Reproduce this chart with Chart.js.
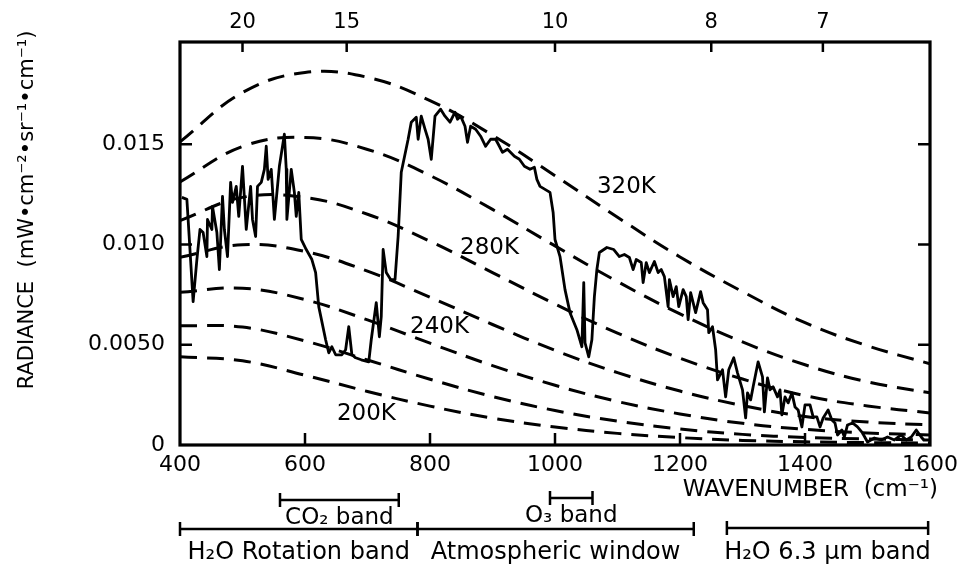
<!DOCTYPE html>
<html>
<head>
<meta charset="utf-8">
<title>Radiance spectrum</title>
<script src="https://cdn.jsdelivr.net/npm/chart.js@4.4.1/dist/chart.umd.min.js"></script>
<style>
  html, body { margin: 0; padding: 0; background: #fff; }
</style>
</head>
<body>
<canvas id="radianceChart" width="965" height="579"></canvas>
<script>
// blackbody reference curves, every 100 cm-1
const planckNu = [400, 500, 600, 700, 800, 900, 1000, 1100, 1200, 1300, 1400, 1500, 1600];
const bb320 = [0.01512, 0.01758, 0.01858, 0.01834, 0.01718, 0.01545, 0.01343, 0.01136, 0.00938, 0.00765, 0.00610, 0.00495, 0.00405];
const bb300 = [0.01312, 0.01489, 0.01534, 0.01474, 0.01344, 0.01175, 0.00993, 0.00815, 0.00654, 0.00514, 0.00400, 0.00315, 0.00260];
const bb280 = [0.01119, 0.01235, 0.01235, 0.01151, 0.01016, 0.00860, 0.00703, 0.00558, 0.00433, 0.00329, 0.00246, 0.00195, 0.00160];
const bb260 = [0.00936, 0.00999, 0.00965, 0.00867, 0.00737, 0.00601, 0.00472, 0.00361, 0.00269, 0.00197, 0.00142, 0.00115, 0.00100];
const bb240 = [0.00762, 0.00782, 0.00725, 0.00624, 0.00508, 0.00396, 0.00298, 0.00217, 0.00155, 0.00108, 0.00078, 0.00060, 0.00050];
const bb220 = [0.00595, 0.00588, 0.00519, 0.00424, 0.00328, 0.00242, 0.00172, 0.00119, 0.00080, 0.00053, 0.00038, 0.00030, 0.00025];
const bb200 = [0.00440, 0.00420, 0.00348, 0.00267, 0.00194, 0.00134, 0.00090, 0.00058, 0.00037, 0.00023, 0.00016, 0.00012, 0.00010];

// measured spectrum
const specNu = [403, 411, 413, 421, 427, 432, 437, 443, 444, 451, 452, 459, 463, 468, 471, 476, 481, 484, 490, 494,
  500, 506, 513, 516, 521, 524, 530, 535, 538, 541, 546, 551, 559, 567, 570, 571, 578, 583, 586, 590,
  594, 602, 611, 617, 622, 633, 638, 643, 649, 659, 665, 670, 675, 681, 690, 702, 706, 714, 719, 722,
  725, 730, 737, 744, 749, 754, 765, 770, 778, 781, 786, 792, 797, 802, 808, 817, 824, 832, 840, 844,
  849, 856, 860, 865, 873, 881, 889, 897, 905, 911, 916, 924, 935, 943, 951, 960, 967, 971, 976, 984,
  992, 997, 1000, 1008, 1016, 1024, 1035, 1043, 1046, 1048, 1054, 1059, 1063, 1067, 1071, 1083, 1094, 1103, 1111, 1119,
  1125, 1130, 1138, 1141, 1146, 1151, 1159, 1165, 1170, 1175, 1181, 1183, 1189, 1194, 1198, 1205, 1210, 1213, 1217, 1225,
  1233, 1237, 1244, 1246, 1252, 1257, 1260, 1268, 1273, 1278, 1286, 1292, 1300, 1305, 1308, 1313, 1317, 1325, 1332, 1335,
  1340, 1344, 1349, 1356, 1360, 1363, 1368, 1373, 1379, 1384, 1389, 1395, 1400, 1408, 1413, 1419, 1424, 1429, 1437, 1443,
  1448, 1452, 1459, 1463, 1468, 1476, 1484, 1492, 1500, 1511, 1522, 1532, 1543, 1554, 1562, 1570, 1578, 1586, 1590];
const specRad = [0.01235, 0.01225, 0.01125, 0.00715, 0.00925, 0.01075, 0.0106, 0.0094, 0.01125, 0.01075, 0.0119, 0.0106, 0.00875, 0.0124, 0.01075, 0.0094, 0.0131, 0.0121, 0.0129, 0.0114,
  0.0139, 0.01075, 0.0129, 0.01125, 0.0104, 0.0129, 0.0131, 0.01375, 0.0149, 0.01325, 0.01375, 0.01125, 0.0139, 0.0155, 0.01375, 0.01125, 0.01375, 0.0126, 0.0114, 0.0126,
  0.01025, 0.00975, 0.00925, 0.0086, 0.0069, 0.00525, 0.0046, 0.0049, 0.0045, 0.0045, 0.00475, 0.0059, 0.0045, 0.00435, 0.00425, 0.00415, 0.00525, 0.0071, 0.0054, 0.0064,
  0.00975, 0.0086, 0.00825, 0.00825, 0.0104, 0.0136, 0.01525, 0.0161, 0.01635, 0.01525, 0.0164, 0.01575, 0.01525, 0.01425, 0.0164, 0.01675, 0.0164, 0.0161, 0.0166, 0.01625,
  0.0164, 0.0159, 0.0151, 0.0159, 0.01575, 0.0154, 0.0149, 0.01525, 0.01525, 0.0149, 0.0146, 0.01475, 0.0144, 0.01425, 0.0139, 0.01375, 0.01385, 0.01325, 0.0129, 0.01275,
  0.0126, 0.0116, 0.01025, 0.0094, 0.00775, 0.0066, 0.00575, 0.0049, 0.0081, 0.0051, 0.0044, 0.00525, 0.0074, 0.00875, 0.0096, 0.00985, 0.00975, 0.0094, 0.0095, 0.00935,
  0.00875, 0.00925, 0.0091, 0.0081, 0.0091, 0.0086, 0.00915, 0.0086, 0.00875, 0.0084, 0.0069, 0.00825, 0.0074, 0.0079, 0.0069, 0.00775, 0.0074, 0.00625, 0.0076, 0.0066,
  0.00765, 0.0071, 0.00675, 0.0056, 0.0059, 0.00475, 0.00325, 0.00375, 0.0024, 0.00375, 0.00435, 0.0036, 0.00275, 0.00135, 0.0026, 0.00225, 0.0029, 0.00415, 0.0034, 0.00165,
  0.00335, 0.00275, 0.0029, 0.0024, 0.00275, 0.0015, 0.0024, 0.0021, 0.0026, 0.0019, 0.00175, 0.0009, 0.002, 0.002, 0.0014, 0.0014, 0.0009, 0.00135, 0.00175, 0.00125,
  0.0011, 0.0005, 0.00075, 0.0004, 0.001, 0.0011, 0.0009, 0.0006, 0.00015, 0.00035, 0.00025, 0.0004, 0.00025, 0.0005, 0.00025, 0.0004, 0.00075, 0.0004, 0.00025];

// axes
const yTickVals = [0, 0.005, 0.010, 0.015];
const yTickText = ['0', '0.0050', '0.010', '0.015'];
const topTickNu = [500, 666.7, 1000, 1250, 1428.6];
const topTickText = ['20', '15', '10', '8', '7'];

// absorption bands (cm-1)
const bandNames = ['CO\u2082 band', 'O\u2083 band', 'H\u2082O Rotation band', 'Atmospheric window', 'H\u2082O 6.3 \u03bcm band'];
const bandStart = [560, 992, 400, 780, 1275];
const bandEnd = [750, 1060, 780, 1222, 1597];

const FONT = '"DejaVu Sans", "Liberation Sans", sans-serif';

const xy = (xs, ys) => xs.map((v, i) => ({ x: v, y: ys[i] }));
const dashed = (data) => ({
    data: xy(planckNu, data),
    borderColor: '#000',
    borderWidth: 3,
    borderDash: [17, 10],
    pointRadius: 0,
    tension: 0.4,
    fill: false
});

// curve labels: text, wavenumber of left edge, radiance of middle
const curveLabels = [
    ['320K', 1067, 0.01285],
    ['280K', 848, 0.0098],
    ['240K', 768, 0.0059],
    ['200K', 651, 0.00155]
];
// bracket rows: y of bracket, y of text, per band
const bandRows = [[500, 518], [498, 516], [529, 553], [529, 553], [528, 553]];

const annotate = {
    id: 'annotate',
    afterDraw(chart) {
        const { ctx, chartArea: a, scales } = chart;
        const x = scales.x, y = scales.y, xt = scales.xTop;
        ctx.save();
        ctx.strokeStyle = '#000';
        ctx.fillStyle = '#000';

        ctx.lineWidth = 3.2;
        ctx.strokeRect(a.left, a.top, a.right - a.left, a.bottom - a.top);

        // inward tick marks
        ctx.lineWidth = 2.5;
        ctx.beginPath();
        x.ticks.forEach(t => {
            if (t.value <= x.min || t.value >= x.max) return;
            const px = x.getPixelForValue(t.value);
            ctx.moveTo(px, a.bottom); ctx.lineTo(px, a.bottom - 12);
        });
        xt.ticks.forEach(t => {
            const px = xt.getPixelForValue(t.value);
            ctx.moveTo(px, a.top); ctx.lineTo(px, a.top + 10);
        });
        y.ticks.forEach(t => {
            if (t.value <= 0) return;
            const py = y.getPixelForValue(t.value);
            ctx.moveTo(a.left, py); ctx.lineTo(a.left + 12, py);
            ctx.moveTo(a.right, py); ctx.lineTo(a.right - 12, py);
        });
        ctx.stroke();

        // temperature labels
        ctx.font = '23px ' + FONT;
        ctx.textAlign = 'left';
        ctx.textBaseline = 'middle';
        curveLabels.forEach(([txt, nu, rad]) => {
            ctx.fillText(txt, x.getPixelForValue(nu), y.getPixelForValue(rad));
        });

        // x title
        ctx.font = '23px ' + FONT;
        ctx.textAlign = 'right';
        ctx.fillText('WAVENUMBER  (cm\u207b\u00b9)', 938, 490);

        // band brackets
        ctx.lineWidth = 2.5;
        bandNames.forEach((name, i) => {
            const x0 = x.getPixelForValue(bandStart[i]);
            const x1 = x.getPixelForValue(bandEnd[i]);
            const [by, ty] = bandRows[i];
            ctx.beginPath();
            ctx.moveTo(x0, by); ctx.lineTo(x1, by);
            ctx.moveTo(x0, by - 7); ctx.lineTo(x0, by + 7);
            ctx.moveTo(x1, by - 7); ctx.lineTo(x1, by + 7);
            ctx.stroke();
            ctx.font = (i < 2 ? '23px ' : '24px ') + FONT;
            ctx.textAlign = 'center';
            ctx.fillText(name, (x0 + x1) / 2, ty);
        });

        // y title
        ctx.translate(28, 210);
        ctx.rotate(-Math.PI / 2);
        ctx.font = '21px ' + FONT;
        ctx.textAlign = 'center';
        ctx.fillText('RADIANCE  (mW\u2022cm\u207b\u00b2\u2022sr\u207b\u00b9\u2022cm\u207b\u00b9)', 0, 0);
        ctx.restore();
    }
};

new Chart(document.getElementById('radianceChart'), {
    type: 'line',
    data: {
        datasets: [
            dashed(bb320), dashed(bb300), dashed(bb280), dashed(bb260),
            dashed(bb240), dashed(bb220), dashed(bb200),
            {
                data: xy(specNu, specRad),
                borderColor: '#000',
                borderWidth: 2.8,
                borderJoinStyle: 'round',
                pointRadius: 0,
                tension: 0,
                fill: false
            }
        ]
    },
    options: {
        responsive: false,
        animation: false,
        layout: { padding: { left: 0, right: 29, top: 0, bottom: 0 } },
        plugins: { legend: { display: false }, tooltip: { enabled: false } },
        scales: {
            x: {
                type: 'linear', position: 'bottom', min: 400, max: 1600,
                grid: { display: false, drawTicks: false },
                border: { display: false },
                ticks: {
                    stepSize: 200, autoSkip: false, maxRotation: 0, padding: 7,
                    color: '#000', font: { family: FONT, size: 22 },
                    callback: v => String(v)
                },
                afterFit: s => { s.height = 134; }
            },
            xTop: {
                type: 'linear', position: 'top', min: 400, max: 1600, display: true,
                grid: { display: false, drawTicks: false },
                border: { display: false },
                afterBuildTicks: s => { s.ticks = topTickNu.map(v => ({ value: v })); },
                ticks: {
                    autoSkip: false, maxRotation: 0, padding: 7,
                    color: '#000', font: { family: FONT, size: 21 },
                    callback: (v, i) => topTickText[i]
                },
                afterFit: s => { s.height = 42; }
            },
            y: {
                type: 'linear', min: 0, max: 0.0201,
                grid: { display: false, drawTicks: false },
                border: { display: false },
                afterBuildTicks: s => { s.ticks = yTickVals.map(v => ({ value: v })); },
                ticks: {
                    padding: 15, color: '#000', font: { family: FONT, size: 22 },
                    callback: (v, i) => yTickText[i]
                },
                afterFit: s => { s.width = 180; }
            }
        }
    },
    plugins: [annotate]
});
</script>
</body>
</html>
